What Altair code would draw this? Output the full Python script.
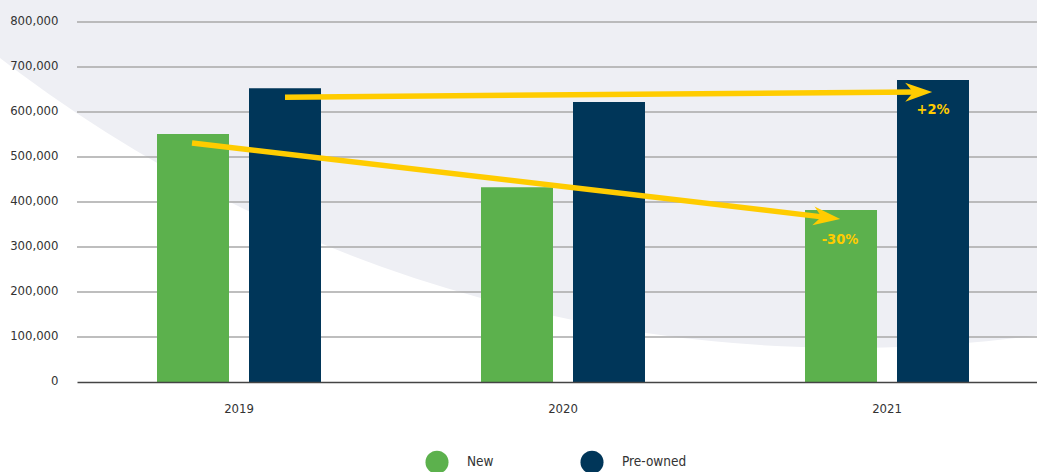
import altair as alt
import pandas as pd

# ---- data ----
years = ["2019", "2020", "2021"]
new_units = [551000, 433000, 382000]
preowned_units = [653000, 622000, 671000]
series = ["New", "Pre-owned"]
y_ticks = [100000, 200000, 300000, 400000, 500000, 600000, 700000, 800000]

# trend arrows (x in fractional category index, y in units)
arrow_id = ["new", "pre"]
arrow_x0 = [-0.145, 0.142]
arrow_y0 = [531000, 633000]
arrow_x1 = [1.806, 2.0895]
arrow_y1 = [366400, 644200]
arrow_angle = [6.7, 359.56]
arrow_label = ["-30%", "+2%"]
label_x = [1.855, 2.142]
label_y = [315000, 604000]

# decorative background disc (centre in data units)
bg_x = [1.886]
bg_y = [3166667]

GREEN = "#5CB14D"
NAVY = "#003659"
YELLOW = "#FFCC00"
BGGRAY = "#EEEFF4"
FONT = "DejaVu Sans Condensed, Liberation Sans Narrow, sans-serif"

bars_df = pd.DataFrame({
    "Year": years * 2,
    "Series": ["New"] * 3 + ["Pre-owned"] * 3,
    "Units": new_units + preowned_units,
})
arrows_df = pd.DataFrame({
    "id": arrow_id * 2,
    "order": [0, 0, 1, 1],
    "xi": [arrow_x0[0], arrow_x0[1], arrow_x1[0], arrow_x1[1]],
    "v": [arrow_y0[0], arrow_y0[1], arrow_y1[0], arrow_y1[1]],
})
heads_df = pd.DataFrame({"xi": arrow_x1, "v": arrow_y1, "angle": arrow_angle})
labels_df = pd.DataFrame({"xi": label_x, "v": label_y, "text": arrow_label})
bg_df = pd.DataFrame({"xi": bg_x, "v": bg_y})
grid_df = pd.DataFrame({"v": y_ticks})

yscale = alt.Scale(domain=[0, 800000], nice=False, zero=True)
yaxis = alt.Axis(title=None, values=[0] + y_ticks, format=",d", grid=False,
                 domain=False, ticks=False, labelPadding=19, labelOffset=-2,
                 labelFontSize=13, labelColor="#333333", labelFont=FONT, zindex=1)
xq = alt.Scale(domain=[-0.5, 2.463], nice=False, zero=False)

bg = alt.Chart(bg_df).mark_point(
    shape="circle", filled=True, size=7739524, color=BGGRAY, opacity=1, strokeWidth=0
).encode(
    x=alt.X("xi:Q", scale=xq, axis=None),
    y=alt.Y("v:Q", scale=yscale, axis=yaxis),
)

grid = alt.Chart(grid_df).mark_rule(color="#A9A9A9", strokeWidth=1.5).encode(
    y=alt.Y("v:Q", scale=yscale, axis=yaxis),
    x=alt.value(0),
    x2=alt.value(960),
)

bars = alt.Chart(bars_df).mark_bar().encode(
    x=alt.X("Year:N", sort=years,
            scale=alt.Scale(domain=years, range=[0, 972], paddingInner=0, paddingOuter=0),
            axis=alt.Axis(title=None, labelAngle=0, ticks=False, domain=True,
                          domainColor="#444444", domainWidth=1.5, labelPadding=20,
                          labelFontSize=13, labelColor="#333333", labelFont=FONT, zindex=1)),
    xOffset=alt.XOffset("Series:N", sort=series,
                        scale=alt.Scale(domain=series, paddingInner=0.2174, paddingOuter=0.8696)),
    y=alt.Y("Units:Q", scale=yscale, axis=yaxis),
    color=alt.Color("Series:N", sort=series,
                    scale=alt.Scale(domain=series, range=[GREEN, NAVY]),
                    legend=alt.Legend(title=None, orient="none", direction="horizontal",
                                      legendX=348, legendY=428, symbolType="circle",
                                      symbolSize=530, symbolStrokeWidth=0,
                                      labelFontSize=13.5, labelColor="#333333", labelFont=FONT,
                                      labelOffset=18, columnPadding=86, padding=0)),
)

arrows = alt.Chart(arrows_df).mark_line(color=YELLOW, strokeWidth=5.5, strokeCap="butt").encode(
    x=alt.X("xi:Q", scale=xq, axis=None),
    y=alt.Y("v:Q", scale=yscale, axis=yaxis),
    detail="id:N",
    order="order:Q",
)

heads = alt.Chart(heads_df).mark_point(
    shape="M 1.2 0 L -0.8 -0.7 L -0.2 0 L -0.8 0.7 Z",
    filled=True, size=729, color=YELLOW, opacity=1, strokeWidth=0,
).encode(
    x=alt.X("xi:Q", scale=xq, axis=None),
    y=alt.Y("v:Q", scale=yscale, axis=yaxis),
    angle=alt.Angle("angle:Q", scale=None),
)

labels = alt.Chart(labels_df).mark_text(
    color=YELLOW, fontSize=14.5, fontWeight="bold", font=FONT, align="center", baseline="middle"
).encode(
    x=alt.X("xi:Q", scale=xq, axis=None),
    y=alt.Y("v:Q", scale=yscale, axis=yaxis),
    text="text:N",
)

chart = alt.layer(bg, grid, bars, arrows, heads, labels).resolve_scale(
    x="independent"
).properties(
    width=960, height=360,
    autosize=alt.AutoSizeParams(type="none"),
    padding={"left": 77, "top": 22, "right": 0, "bottom": 90},
    background="white",
).configure_view(stroke=None)

chart.save("out.html", embed_options={"renderer": "svg", "actions": False})
